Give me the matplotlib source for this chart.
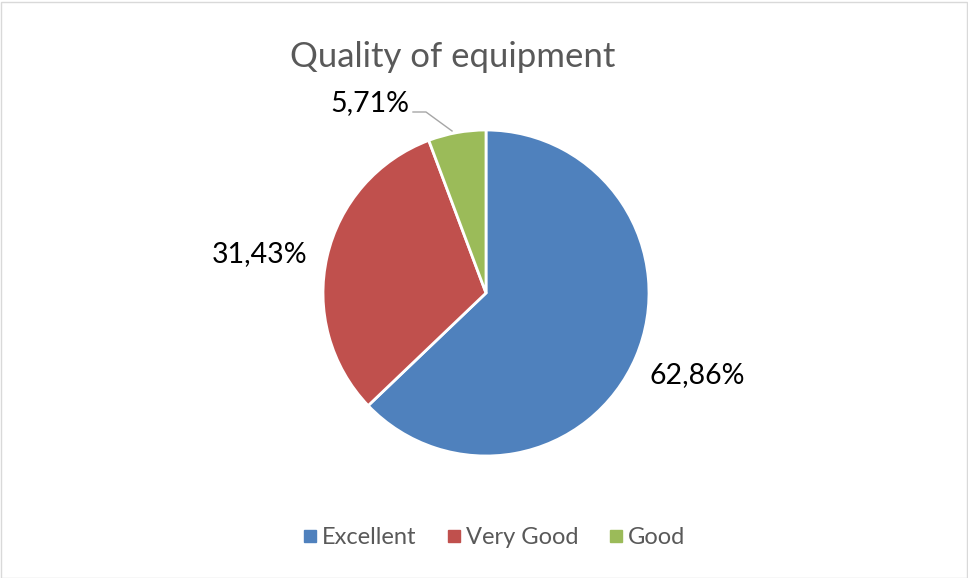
import numpy as np
import matplotlib
matplotlib.use("Agg")
import matplotlib.pyplot as plt
from matplotlib.patches import Rectangle
from matplotlib.lines import Line2D

categories = ["Excellent", "Very Good", "Good"]
values = [62.86, 31.43, 5.71]
labels = ["62,86%", "31,43%", "5,71%"]
colors = ["#4F81BD", "#C0504D", "#9BBB59"]
title = "Quality of equipment"

plt.rcParams['font.family'] = ['Lato', 'DejaVu Sans']

W, H = 968, 578
fig = plt.figure(figsize=(W / 100, H / 100), dpi=100)
fig.patch.set_facecolor("white")
fig.patches.append(Rectangle((0.5 / W, 0.5 / H), 1 - 2 / W, 1 - 2 / H, transform=fig.transFigure,
                             fill=False, edgecolor="#D9D9D9", linewidth=1))

cx, cy, r = 486, 293, 163
ax = fig.add_axes([(cx - r) / W, (H - cy - r) / H, 2 * r / W, 2 * r / H])
wedges, _ = ax.pie(values, colors=colors, startangle=90, counterclock=False,
                   wedgeprops=dict(edgecolor="white", linewidth=2), radius=1)
ax.set_xlim(-1, 1)
ax.set_ylim(-1, 1)
ax.set_axis_off()

# labels for the two big slices, placed radially
for w, lab, dist, adj in [(wedges[0], labels[0], 1.39, 2.0), (wedges[1], labels[1], 1.41, 3.0)]:
    ang = np.deg2rad((w.theta1 + w.theta2) / 2 + adj)
    ax.text(dist * np.cos(ang), dist * np.sin(ang), lab, ha="center", va="center",
            fontsize=20.5, color="black", clip_on=False)

# small slice label with leader line
w = wedges[2]
ang = np.deg2rad((w.theta1 + w.theta2) / 2)
tip = (np.cos(ang) * 1.0, np.sin(ang) * 1.0)
lx, ly = (370 - cx) / r, (cy - 103) / r
ax.text(lx, ly, labels[2], ha="center", va="center", fontsize=20.5, color="black", clip_on=False)
ax.add_line(Line2D([(413 - cx) / r, (426 - cx) / r, tip[0] - 0.03], [(cy - 112) / r, (cy - 112) / r, tip[1] + 0.01],
                   color="#A6A6A6", linewidth=1, clip_on=False))

fig.text(453 / W, 1 - 57 / H, title, ha="center", va="center", fontsize=25, color="#595959")

handles = [Line2D([], [], marker="s", linestyle="none", markersize=8, color=c) for c in colors]
fig.legend(handles, categories, loc="center", bbox_to_anchor=(493 / W, 1 - 538 / H), ncol=3,
           frameon=False, fontsize=17, handletextpad=0.1, columnspacing=1.2, labelcolor="#595959",
           handlelength=0.8)

fig.savefig("out.png", dpi=100)
